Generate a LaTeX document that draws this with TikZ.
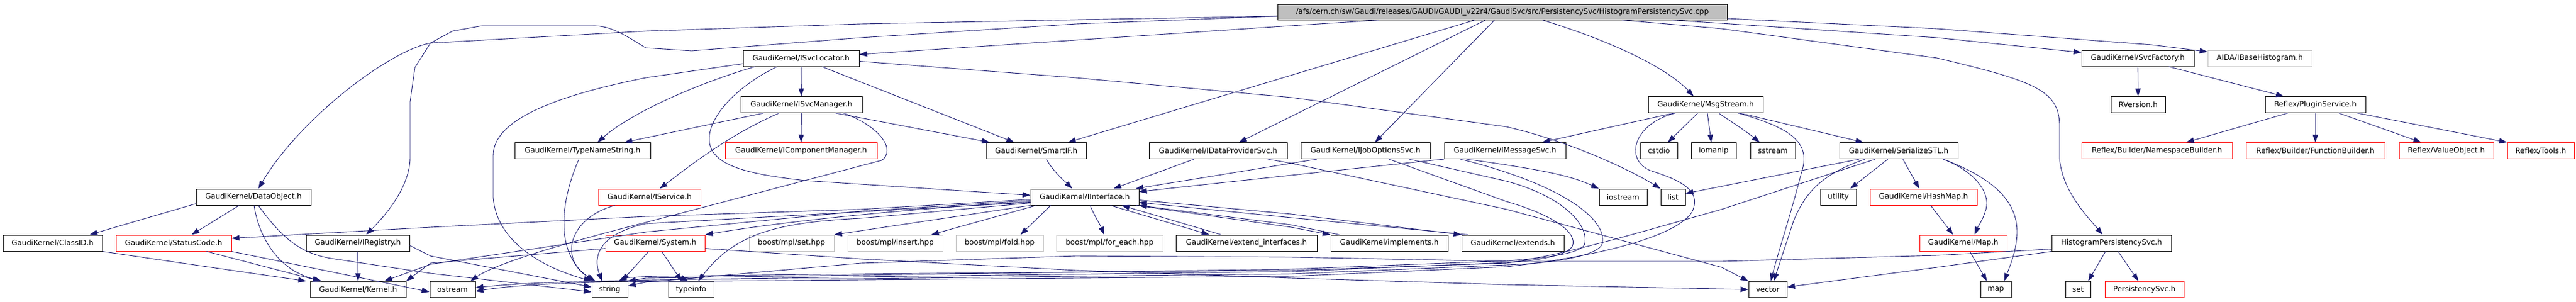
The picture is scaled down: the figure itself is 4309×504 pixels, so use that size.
\documentclass[tikz,border=0pt]{standalone}
\usepackage{fontspec}
\setmainfont{DejaVu Sans}
\usetikzlibrary{arrows.meta}
\definecolor{edgec}{HTML}{191970}
\definecolor{grayc}{HTML}{BFBFBF}
\begin{document}
\begin{tikzpicture}[x=1pt,y=-1pt,
  box/.style={draw=black, line width=1pt, minimum height=27pt, inner sep=0pt, font=\fontsize{12.4}{14}\selectfont, anchor=center},
  redbox/.style={box, draw=red},
  graybox/.style={box, draw=grayc},
  e/.style={draw=edgec, line width=0.9pt, -{Triangle[length=13pt,width=9pt]}}
]
\useasboundingbox (0,0) rectangle (4309,504);
% nodes
\node[box, fill=grayc, minimum width=752pt, minimum height=26pt] (root) at (2513,20) {/afs/cern.ch/sw/Gaudi/releases/GAUDI/GAUDI\_v22r4/GaudiSvc/src/PersistencySvc/HistogramPersistencySvc.cpp};
\node[box, minimum width=194pt] (isvcloc) at (1340,97.5) {GaudiKernel/ISvcLocator.h};
\node[box, minimum width=188pt] (svcfac) at (3576,97.5) {GaudiKernel/SvcFactory.h};
\node[graybox, minimum width=174pt] (aida) at (3780,97.5) {AIDA/IBaseHistogram.h};
\node[box, minimum width=203pt] (isvcmgr) at (1340.5,175) {GaudiKernel/ISvcManager.h};
\node[box, minimum width=192pt] (msgstream) at (2853,175) {GaudiKernel/MsgStream.h};
\node[box, minimum width=91pt] (rversion) at (3576.5,175) {RVersion.h};
\node[box, minimum width=168pt] (plugin) at (3873,175) {Reflex/PluginService.h};
\node[box, minimum width=227pt] (typename) at (974.5,252) {GaudiKernel/TypeNameString.h};
\node[redbox, minimum width=254pt] (icompmgr) at (1340,252) {GaudiKernel/IComponentManager.h};
\node[box, minimum width=167pt] (smartif) at (1733.5,252) {GaudiKernel/SmartIF.h};
\node[box, minimum width=231pt] (idataprov) at (2037.5,252) {GaudiKernel/IDataProviderSvc.h};
\node[box, minimum width=216pt] (ijobopt) at (2284,252) {GaudiKernel/IJobOptionsSvc.h};
\node[box, minimum width=203pt] (imsgsvc) at (2517.5,252) {GaudiKernel/IMessageSvc.h};
\node[box, minimum width=62pt] (cstdio) at (2775,252) {cstdio};
\node[box, minimum width=75pt] (iomanip) at (2866.5,252) {iomanip};
\node[box, minimum width=75pt] (sstream) at (2965.5,252) {sstream};
\node[box, minimum width=198pt] (serial) at (3176,252) {GaudiKernel/SerializeSTL.h};
\node[redbox, minimum width=252pt] (nsbuilder) at (3608,252) {Reflex/Builder/NamespaceBuilder.h};
\node[redbox, minimum width=232pt] (fnbuilder) at (3873,252) {Reflex/Builder/FunctionBuilder.h};
\node[redbox, minimum width=158pt] (valueobj) at (4092,252) {Reflex/ValueObject.h};
\node[redbox, minimum width=112pt] (tools) at (4250,252) {Reflex/Tools.h};
\node[box, minimum width=192pt] (dataobj) at (424,329.5) {GaudiKernel/DataObject.h};
\node[redbox, minimum width=171pt] (iservice) at (1086.5,329.5) {GaudiKernel/IService.h};
\node[box, minimum width=181pt] (iinterface) at (1814.5,329.5) {GaudiKernel/IInterface.h};
\node[box, minimum width=80pt] (iostream) at (2715,329.5) {iostream};
\node[box, minimum width=41pt] (list) at (2798.5,329.5) {list};
\node[box, minimum width=60pt] (utility) at (3075,329.5) {utility};
\node[redbox, minimum width=179pt] (hashmap) at (3217.5,329.5) {GaudiKernel/HashMap.h};
\node[box, minimum width=166pt] (classid) at (88,406.5) {GaudiKernel/ClassID.h};
\node[redbox, minimum width=193pt] (statuscode) at (290.5,406.5) {GaudiKernel/StatusCode.h};
\node[box, minimum width=173pt] (iregistry) at (598.5,406.5) {GaudiKernel/IRegistry.h};
\node[redbox, minimum width=166pt] (system) at (1096,406.5) {GaudiKernel/System.h};
\node[graybox, minimum width=142pt] (mplset) at (1324,406.5) {boost/mpl/set.hpp};
\node[graybox, minimum width=159pt] (mplinsert) at (1497.5,406.5) {boost/mpl/insert.hpp};
\node[graybox, minimum width=146pt] (mplfold) at (1672,406.5) {boost/mpl/fold.hpp};
\node[graybox, minimum width=178pt] (mplforeach) at (1856,406.5) {boost/mpl/for\_each.hpp};
\node[box, minimum width=236pt] (extintf) at (2085,406.5) {GaudiKernel/extend\_interfaces.h};
\node[box, minimum width=196pt] (implements) at (2324,406.5) {GaudiKernel/implements.h};
\node[box, minimum width=171pt] (extends) at (2530.5,406.5) {GaudiKernel/extends.h};
\node[redbox, minimum width=146pt] (maph) at (3284,406.5) {GaudiKernel/Map.h};
\node[box, minimum width=200pt] (hps) at (3532,406.5) {HistogramPersistencySvc.h};
\node[box, minimum width=160pt] (kernel) at (599,484) {GaudiKernel/Kernel.h};
\node[box, minimum width=76pt] (ostream) at (757,484) {ostream};
\node[box, minimum width=60pt] (string) at (1020,484) {string};
\node[box, minimum width=76pt] (typeinfo) at (1156,484) {typeinfo};
\node[box, minimum width=64pt] (vector) at (2957,484) {vector};
\node[box, minimum width=51pt] (map) at (3338.5,484) {map};
\node[box, minimum width=42pt] (set) at (3476,484) {set};
\node[redbox, minimum width=132pt] (persist) at (3587,484) {PersistencySvc.h};

% root edges
\draw[e] ([yshift=-7pt]root.west) -- (1800,33) -- (1440,40) -- (1080,52) -- (720,72) .. controls (650,85) and (500,200) .. (dataobj);
\draw[e] ([yshift=-7pt]root.west) -- (1800,40) -- (1440,63) -- (1157,85) -- (1080,80) .. controls (1040,55) and (1020,43) .. (990,43) -- (807,43) -- (757,52) -- (720,72) -- (694,113) -- (686,170) -- (686,265) .. controls (685,310) and (650,355) .. (iregistry);
\draw[e] ([xshift=-206pt]root.south) -- (2160,43) -- (1800,67) -- (isvcloc);
\draw[e] ([xshift=-46pt]root.south) -- ([xshift=53pt]smartif.north);
\draw[e] ([xshift=-28pt]root.south) -- ([xshift=35pt]idataprov.north);
\draw[e] ([xshift=-13pt]root.south) -- ([xshift=16pt]ijobopt.north);
\draw[e] ([xshift=67pt]root.south) .. controls (2700,70) and (2790,115) .. ([xshift=-20pt]msgstream.north);
\draw[e] ([xshift=200pt]root.south) -- (2880,48) -- (3240,97) .. controls (3400,135) and (3445,150) .. (3445,210) -- (3445,265) .. controls (3450,320) and (3490,360) .. ([xshift=-15pt]hps.north);
\draw[e] ([xshift=284pt]root.south) -- (3240,63) -- (svcfac);
\draw[e] ([yshift=-11pt]root.east) -- (3240,48) -- (3600,75) -- (aida);

% ISvcLocator
\draw[e] (isvcloc) -- (isvcmgr);
\draw[e] ([xshift=-77pt]isvcloc.south) .. controls (1180,135) and (1060,185) .. ([xshift=25pt]typename.north);
\draw[e] ([xshift=-40pt]isvcloc.south) .. controls (1230,145) and (1180,200) .. (1187,240) .. controls (1195,280) and (1260,292) .. (1347,302) -- ([yshift=3pt]iinterface.west);
\draw[e] ([xshift=35pt]isvcloc.south) -- ([xshift=-37pt]smartif.north);
\draw[e] ([yshift=-9pt]isvcloc.west) -- (1080,130) .. controls (930,160) and (825,200) .. (825,260) -- (825,330) .. controls (830,400) and (900,445) .. (string.north west);
\draw[e] ([yshift=-5pt]isvcloc.east) -- (1800,130) -- (2160,163) -- (2520,212) .. controls (2620,235) and (2720,280) .. (list.north west);

% ISvcManager
\draw[e] ([xshift=-63pt]isvcmgr.south) -- ([xshift=70pt]typename.north);
\draw[e] ([xshift=-37pt]isvcmgr.south) .. controls (1220,225) and (1150,280) .. ([xshift=17pt]iservice.north);
\draw[e] (isvcmgr) -- (icompmgr);
\draw[e] ([xshift=57pt]isvcmgr.south) -- ([xshift=-78pt]smartif.north);
\draw[e] ([xshift=70pt]isvcmgr.south) .. controls (1470,210) and (1500,250) .. (1475,268) -- (1080,372) .. controls (950,405) and (830,440) .. ([xshift=30pt]ostream.north);

% TypeNameString, IService, SmartIF
\draw[e] ([xshift=-6pt]typename.south) .. controls (940,330) and (925,420) .. ([xshift=-27pt]string.north);
\draw[e] ([xshift=-58pt]iservice.south) .. controls (950,365) and (935,435) .. ([xshift=-24pt]string.north);
\draw[e] ([xshift=17pt]smartif.south) .. controls (1760,285) and (1778,300) .. ([xshift=-21pt]iinterface.north);

% IDataProviderSvc, IJobOptionsSvc, IMessageSvc
\draw[e] ([xshift=-40pt]idataprov.south) -- ([xshift=48pt]iinterface.north);
\draw[e] ([xshift=83pt]idataprov.south) -- (2160,273) -- (2520,350) -- (2880,447) -- (vector.north west);
\draw[e] ([xshift=-81pt]ijobopt.south) -- (2160,273) -- ([xshift=-6pt]iinterface.north east);
\draw[e] ([xshift=73pt]ijobopt.south) -- (2520,303) .. controls (2620,330) and (2660,380) .. (2650,410) .. controls (2640,425) and (2580,432) .. (2520,436) -- (2160,450) -- (1440,460) -- (1080,465) -- (string.north east);
\draw[e] ([xshift=39pt]ijobopt.south) -- (2520,337) .. controls (2600,360) and (2640,390) .. (2630,412) .. controls (2620,428) and (2570,436) .. (2520,439) -- (2160,454) -- (1440,463) -- (1100,468) .. controls (1000,470) and (880,472) .. ([yshift=3pt]ostream.east);
\draw[e] (imsgsvc.south west) -- (2160,293) -- ([yshift=9pt]iinterface.east);
\draw[e] ([xshift=-65pt]imsgsvc.south) .. controls (2590,285) and (2630,295) .. (iostream.north west);
\draw[e] ([xshift=-75pt]imsgsvc.south) .. controls (2620,310) and (2690,370) .. (2680,408) .. controls (2672,428) and (2600,440) .. (2520,443) -- (2160,458) -- (1440,466) -- (1180,467) .. controls (1150,467) and (1130,460) .. ([xshift=-5pt]typeinfo.north);

% MsgStream
\draw[e] ([xshift=-53pt]msgstream.south) -- ([xshift=62pt]imsgsvc.north);
\draw[e] ([xshift=-13pt]msgstream.south) -- ([xshift=15pt]cstdio.north);
\draw[e] ([xshift=3pt]msgstream.south) -- ([xshift=-4pt]iomanip.north);
\draw[e] ([xshift=22pt]msgstream.south) .. controls (2890,200) and (2915,215) .. ([xshift=-22pt]sstream.north);
\draw[e] ([xshift=57pt]msgstream.south) -- ([xshift=-59pt]serial.north);
\draw[e] ([xshift=54pt]msgstream.south) .. controls (3000,215) and (3030,240) .. (3013,290) .. controls (2995,360) and (2975,420) .. ([xshift=5pt]vector.north);
\draw[e] ([xshift=-50pt]msgstream.south) .. controls (2735,205) and (2715,265) .. (2760,285) .. controls (2800,298) and (2850,315) .. (2830,355) .. controls (2800,400) and (2650,432) .. (2520,446) -- (2160,462) -- (1440,468) -- (1200,470) .. controls (1100,470) and (900,470) .. ([yshift=-3pt]ostream.east);

% SerializeSTL
\draw[e] ([xshift=-66pt]serial.south) -- ([yshift=6pt]list.east);
\draw[e] ([xshift=-39pt]serial.south) -- (2880,350) .. controls (2720,395) and (2620,425) .. (2520,440) -- (2160,452) -- (1440,458) -- (1100,462) .. controls (1060,463) and (1045,465) .. ([xshift=15pt]string.north);
\draw[e] ([xshift=-56pt]serial.south) .. controls (3050,290) and (3020,320) .. (3000,370) -- ([xshift=10pt]vector.north);
\draw[e] ([xshift=-18pt]serial.south) -- ([xshift=20pt]utility.north);
\draw[e] ([xshift=7pt]serial.south) -- ([xshift=-7pt]hashmap.north);
\draw[e] ([xshift=74pt]serial.south) .. controls (3300,285) and (3330,320) .. (3322,350) .. controls (3316,370) and (3308,380) .. ([xshift=19pt]maph.north);
\draw[e] ([xshift=74pt]serial.south) .. controls (3340,300) and (3375,340) .. (3374,390) .. controls (3373,420) and (3362,445) .. ([xshift=14pt]map.north);
\draw[e] ([xshift=12pt]hashmap.south) -- ([xshift=-17pt]maph.north);
\draw[e] ([xshift=11pt]maph.south) -- ([xshift=-15pt]map.north);

% HistogramPersistencySvc.h
\draw[e] ([xshift=-10pt]hps.south) -- ([xshift=17pt]set.north);
\draw[e] ([xshift=11pt]hps.south) -- ([xshift=-10pt]persist.north);
\draw[e] ([yshift=-14pt]hps.west) -- (3240,447) -- ([yshift=4pt]vector.east);
\draw[e] ([yshift=-10pt]hps.west) -- (3240,427) -- (2880,437) -- (2520,437) -- (2160,430) -- (1800,428) -- (1440,440) -- (1080,472) -- ([yshift=6pt]string.east);

% SvcFactory, PluginService
\draw[e] (svcfac) -- (rversion);
\draw[e] ([xshift=52pt]svcfac.south) -- ([xshift=-53pt]plugin.north);
\draw[e] ([xshift=-46pt]plugin.south) -- ([xshift=49pt]nsbuilder.north);
\draw[e] (plugin) -- (fnbuilder);
\draw[e] ([xshift=39pt]plugin.south) -- ([xshift=-42pt]valueobj.north);
\draw[e] ([xshift=70pt]plugin.south) -- (tools.north west);

% IInterface
\draw[e] ([yshift=-4pt]iinterface.west) -- (1440,350) -- (1080,362) -- (720,380) -- ([yshift=8pt]statuscode.east);
\draw[e] ([yshift=-6pt]iinterface.west) -- (1440,353) -- (1080,388) -- (720,442) -- ([xshift=44pt]kernel.north);
\draw[e] ([yshift=-8pt]iinterface.west) .. controls (1500,350) and (1300,372) .. (system.north east);
\draw[e] ([yshift=-10pt]iinterface.west) -- (1440,365) .. controls (1300,372) and (1230,390) .. ([xshift=12pt]typeinfo.north);
\draw[e] ([yshift=-9pt]iinterface.west) -- (1080,374) .. controls (1000,392) and (992,430) .. ([xshift=-13pt]string.north);
\draw[e] (iinterface.south west) -- (mplset.north east);
\draw[e] ([xshift=10pt]iinterface.south west) -- ([xshift=60pt]mplinsert.north);
\draw[e] ([xshift=-57pt]iinterface.south) -- ([xshift=35pt]mplfold.north);
\draw[e] ([xshift=9pt]iinterface.south) .. controls (1830,360) and (1840,375) .. ([xshift=-9pt]mplforeach.north);
\draw[e] ([xshift=43pt]iinterface.south) -- ([xshift=-62pt]extintf.north);
\draw[e] ([xshift=-42pt]extintf.north) -- ([xshift=62pt]iinterface.south);
\draw[e] ([xshift=-5pt]iinterface.south east) -- (2160,380) -- (implements.north west);
\draw[e] ([xshift=15pt]implements.north west) -- (2160,376) -- (iinterface.south east);
\draw[e] ([yshift=-5pt]iinterface.east) -- (2160,358) -- (extends.north west);
\draw[e] ([xshift=12pt]extends.north west) -- (2160,364) -- ([yshift=-9pt]iinterface.east);

% System
\draw[e] ([yshift=-9pt]system.west) -- (720,440) -- (kernel.north east);
\draw[e] ([xshift=-11pt]system.south) -- ([xshift=20pt]string.north);
\draw[e] ([xshift=11pt]system.south) -- ([xshift=-16pt]typeinfo.north);
\draw[e] ([yshift=-9pt]system.east) -- (1440,433) -- (1800,452) -- (2160,465) -- (2520,476) -- (vector.west);

% left cluster
\draw[e] ([xshift=-96pt,yshift=3pt]dataobj.south) -- ([xshift=62pt]classid.north);
\draw[e] ([xshift=-24pt]dataobj.south) -- ([xshift=30pt]statuscode.north);
\draw[e] ([xshift=1pt]dataobj.south) .. controls (432,390) and (460,450) .. ([xshift=-61pt]kernel.north);
\draw[e] ([xshift=8pt]dataobj.south) .. controls (470,395) and (500,425) .. (560,433) -- (720,457) -- ([yshift=-4pt]string.west);
\draw[e] (classid.south east) -- (360,448) -- ([xshift=-87pt]kernel.north);
\draw[e] ([xshift=-42pt]statuscode.south east) -- ([xshift=-63pt]kernel.north);
\draw[e] (statuscode.south east) -- ([yshift=-4pt]ostream.west);
\draw[e] (iregistry) -- (kernel);
\draw[e] ([yshift=-4pt]iregistry.east) -- (720,428) -- ([yshift=4pt]string.west);
\end{tikzpicture}
\end{document}
